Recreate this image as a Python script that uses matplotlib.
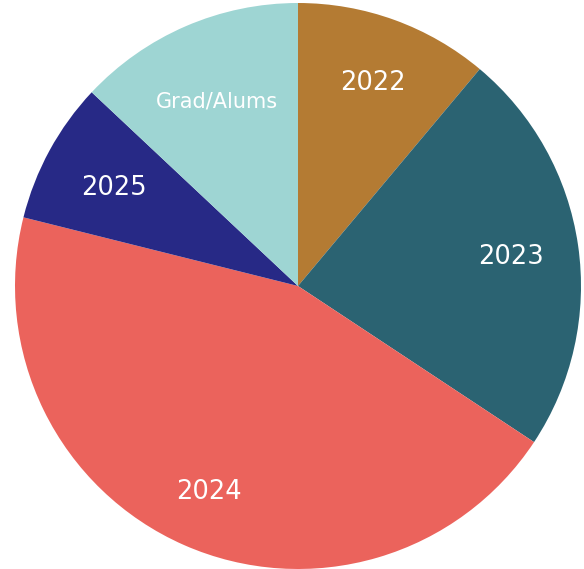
import matplotlib
matplotlib.use("Agg")
import matplotlib.pyplot as plt

# share of respondents by class year
labels = ["2022", "2023", "2024", "2025", "Grad/Alums"]
shares = [11.1, 23.2, 44.6, 8.1, 13.0]
colors = ["#B47B33", "#2B6372", "#EB635C", "#272986", "#9ED5D3"]
font_sizes = [18.5, 18.5, 18.5, 18.5, 15]
label_radius = [0.77, 0.76, 0.785, 0.74, 0.72]

fig = plt.figure(figsize=(5.84, 5.69), dpi=100)
fig.patch.set_facecolor("white")
ax = fig.add_axes([15 / 584, 0, 566 / 584, 566 / 569])

wedges, texts = ax.pie(shares, labels=labels, colors=colors, startangle=90,
                       counterclock=False, labeldistance=1.0,
                       wedgeprops=dict(linewidth=0),
                       textprops=dict(color="white"))
for t, fs, r in zip(texts, font_sizes, label_radius):
    x, y = t.get_position()
    t.set_position((x * r, y * r - 0.008))
    t.set_fontsize(fs)
    t.set_ha("center")
    t.set_va("center")

ax.set_xlim(-1, 1)
ax.set_ylim(-1, 1)
ax.set_aspect("equal")
ax.axis("off")

fig.savefig("out.png", dpi=100)
